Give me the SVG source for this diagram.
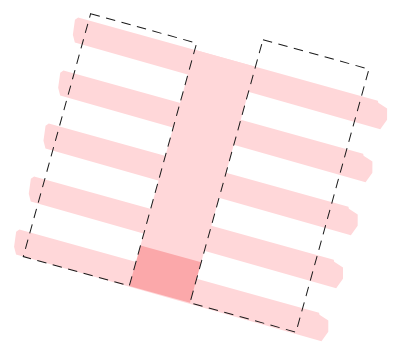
<svg xmlns="http://www.w3.org/2000/svg" xmlns:xlink="http://www.w3.org/1999/xlink" width="405" height="350" viewBox="0 0 405 350">
  <style>
    .bar { fill: #ffd7d9; }
    .col { fill: #ffd7d9; }
    .core { fill: #fba8aa; }
    .frame { fill: none; stroke: #1a1a1a; stroke-width: 1; stroke-dasharray: 9.5 6.5; }
  </style>
  <defs>
    <path id="barShape" d="M80,0 L391,0 L392,2 L402,5 L405,16 L401,27 L83.5,25 L79.5,18 L77.5,3 Z"/>
  </defs>
  <rect width="405" height="350" fill="#ffffff"/>
  <g transform="rotate(15.5)">
    <g id="bars" class="bar">
      <use xlink:href="#barShape" href="#barShape" y="-4"/>
      <use xlink:href="#barShape" href="#barShape" y="51"/>
      <use xlink:href="#barShape" href="#barShape" y="106"/>
      <use xlink:href="#barShape" href="#barShape" y="161"/>
      <use xlink:href="#barShape" href="#barShape" y="216"/>
    </g>
    <g id="column">
      <rect class="col" x="201" y="-4" width="63" height="204"/>
      <rect class="core" x="201" y="199" width="63" height="42"/>
    </g>
    <g id="frame-left">
      <rect class="frame" x="91" y="-11" width="110" height="252"/>
    </g>
    <g id="frame-right">
      <rect class="frame" x="264" y="-32" width="110" height="273"/>
    </g>
  </g>
</svg>
